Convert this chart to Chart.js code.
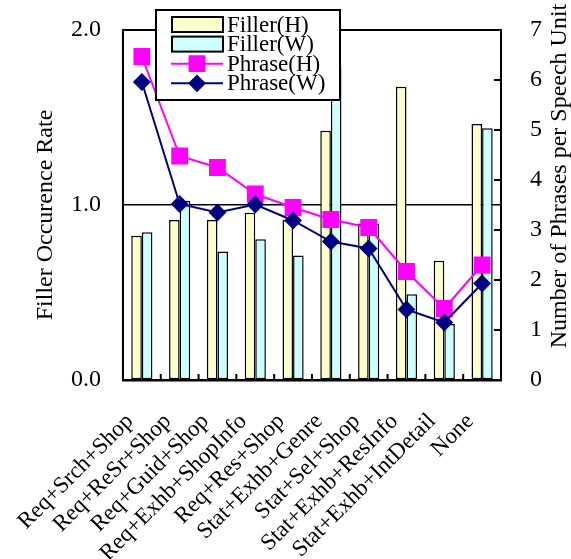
<!DOCTYPE html>
<html>
<head>
<meta charset="utf-8">
<script src="https://cdn.jsdelivr.net/npm/chart.js@4.4.0/dist/chart.umd.min.js"></script>
<style>
  html, body { margin: 0; padding: 0; background: #fff; }
</style>
</head>
<body>
<canvas id="chart" width="571" height="559"></canvas>
<script>
// DATA
const categories = ['Req+Srch+Shop', 'Req+ReSr+Shop', 'Req+Guid+Shop', 'Req+Exhb+ShopInfo', 'Req+Res+Shop',
  'Stat+Exhb+Genre', 'Stat+Sel+Shop', 'Stat+Exhb+ResInfo', 'Stat+Exhb+IntDetail', 'None'];
const fillerH = [0.825, 0.914, 0.914, 0.956, 0.914, 1.425, 0.895, 1.676, 0.682, 1.463];
const fillerW = [0.844, 1.025, 0.735, 0.804, 0.712, 1.79, 0.895, 0.49, 0.32, 1.438];
const phraseH = [6.47, 4.48, 4.25, 3.72, 3.45, 3.21, 3.05, 2.17, 1.43, 2.30];
const phraseW = [5.96, 3.52, 3.35, 3.51, 3.19, 2.77, 2.63, 1.41, 1.15, 1.93];
const leftTicks = [0, 1, 2];
const rightTicks = [0, 1, 2, 3, 4, 5, 6, 7];

const FONT = '"Liberation Serif", "Times New Roman", serif';

// frame, inner tick marks, axis titles, legend
const decor = {
  id: 'decor',
  afterDatasetsDraw(chart) {
    const { ctx, chartArea: a, scales } = chart;
    ctx.save();
    ctx.strokeStyle = '#000';
    ctx.lineWidth = 2;
    ctx.strokeRect(a.left, a.top, a.right - a.left, a.bottom - a.top);
    // x tick marks between categories
    ctx.beginPath();
    for (let i = 0; i < categories.length - 1; i++) {
      const x = (scales.x.getPixelForValue(i) + scales.x.getPixelForValue(i + 1)) / 2;
      ctx.moveTo(x, a.bottom);
      ctx.lineTo(x, a.bottom - 6);
    }
    // right axis tick marks pointing inward
    rightTicks.forEach(v => {
      const y = scales.y1.getPixelForValue(v);
      ctx.moveTo(a.right, y);
      ctx.lineTo(a.right - 7, y);
    });
    ctx.stroke();
    ctx.restore();
  },
  afterDraw(chart) {
    const ctx = chart.ctx;
    ctx.save();
    ctx.fillStyle = '#000';
    ctx.font = '24px ' + FONT;
    ctx.textAlign = 'center';
    ctx.textBaseline = 'middle';
    ctx.translate(46, 215);
    ctx.rotate(-Math.PI / 2);
    ctx.fillText('Filler Occurence Rate', 0, 0);
    ctx.restore();

    ctx.save();
    ctx.fillStyle = '#000';
    ctx.font = '24px ' + FONT;
    ctx.textAlign = 'center';
    ctx.textBaseline = 'middle';
    ctx.translate(560, 176);
    ctx.rotate(-Math.PI / 2);
    ctx.fillText('Number of Phrases per Speech Unit', 0, 0);
    ctx.restore();

    // legend
    const box = { x: 156, y: 10, w: 184, h: 90 };
    ctx.save();
    ctx.fillStyle = '#fff';
    ctx.fillRect(box.x, box.y, box.w, box.h);
    ctx.strokeStyle = '#000';
    ctx.lineWidth = 2;
    ctx.strokeRect(box.x, box.y, box.w, box.h);
    chart.data.datasets.forEach((ds, i) => {
      const cy = 24.5 + i * 19.6;
      if (ds.type === 'bar') {
        ctx.fillStyle = ds.backgroundColor;
        ctx.fillRect(172, cy - 7.5, 51, 15);
        ctx.lineWidth = 2;
        ctx.strokeStyle = '#000';
        ctx.strokeRect(172, cy - 7.5, 51, 15);
      } else {
        ctx.strokeStyle = ds.borderColor;
        ctx.lineWidth = 2;
        ctx.beginPath();
        ctx.moveTo(171, cy);
        ctx.lineTo(223, cy);
        ctx.stroke();
        ctx.fillStyle = ds.pointBackgroundColor;
        Chart.helpers.drawPoint(ctx, { pointStyle: ds.pointStyle, radius: ds.pointRadius, rotation: 0, borderWidth: 1 }, 197, cy);
      }
      ctx.fillStyle = '#000';
      ctx.font = '23px ' + FONT;
      ctx.textAlign = 'left';
      ctx.textBaseline = 'middle';
      ctx.fillText(ds.label, 227, cy + 1);
    });
    ctx.restore();
  }
};

// fixed axis widths, and no extra room reserved above/below for tick labels
const fixY = w => s => { s.width = w; s.paddingTop = 0; s.paddingBottom = 0; };

new Chart(document.getElementById('chart'), {
  data: {
    labels: categories,
    datasets: [
      { type: 'bar', label: 'Filler(H)', data: fillerH, yAxisID: 'y', order: 2,
        backgroundColor: '#FFFFCC', borderColor: '#000', borderWidth: 1.5, borderSkipped: false },
      { type: 'bar', label: 'Filler(W)', data: fillerW, yAxisID: 'y', order: 2,
        backgroundColor: '#CCFFFF', borderColor: '#000', borderWidth: 1.5, borderSkipped: false },
      { type: 'line', label: 'Phrase(H)', data: phraseH, yAxisID: 'y1', order: 1,
        borderColor: '#FF00FF', borderWidth: 2, pointStyle: 'rect', pointRadius: 10.5,
        pointBackgroundColor: '#FF00FF', pointBorderColor: '#FF00FF', tension: 0 },
      { type: 'line', label: 'Phrase(W)', data: phraseW, yAxisID: 'y1', order: 0,
        borderColor: '#000080', borderWidth: 2, pointStyle: 'rectRot', pointRadius: 7.5,
        pointBackgroundColor: '#000080', pointBorderColor: '#000080', tension: 0 }
    ]
  },
  options: {
    responsive: false,
    animation: false,
    layout: { padding: { top: 30, left: 0, right: 0, bottom: 0 } },
    plugins: { legend: { display: false }, tooltip: { enabled: false } },
    datasets: { bar: { barPercentage: 1, categoryPercentage: 0.56 } },
    scales: {
      x: {
        grid: { display: false, drawTicks: false },
        border: { color: '#000', width: 2.5 },
        ticks: { color: '#000', font: { family: FONT, size: 23 }, minRotation: 45, maxRotation: 45,
          autoSkip: false, padding: 28, labelOffset: -12 },
        afterFit: s => { s.height = 179; }
      },
      y: {
        position: 'left', min: 0, max: 2,
        afterBuildTicks: s => { s.ticks = leftTicks.map(v => ({ value: v })); },
        grid: { color: '#000', lineWidth: 1.5, drawTicks: false },
        border: { color: '#000', width: 2 },
        ticks: { color: '#000', font: { family: FONT, size: 24 }, padding: 22, callback: v => v.toFixed(1) },
        afterFit: fixY(121)
      },
      y1: {
        position: 'right', min: 0, max: 7,
        afterBuildTicks: s => { s.ticks = rightTicks.map(v => ({ value: v })); },
        grid: { display: false, drawTicks: false },
        border: { color: '#000', width: 2 },
        ticks: { color: '#000', font: { family: FONT, size: 24 }, padding: 29 },
        afterFit: fixY(70)
      }
    }
  },
  plugins: [decor]
});
</script>
</body>
</html>
